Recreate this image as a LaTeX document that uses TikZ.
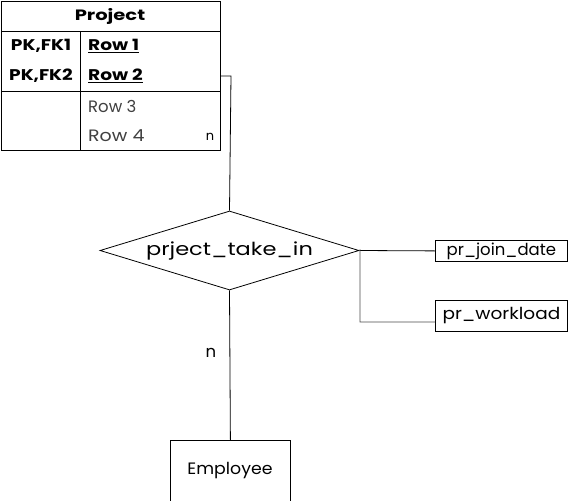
\documentclass[tikz,border=0pt]{standalone}
\usepackage{fontspec}
\usepackage{graphicx}
\setmainfont{Poppins}
\usetikzlibrary{shapes.geometric}
\newcommand{\hsc}[2]{\scalebox{#1}[1]{#2}}
\begin{document}
\begin{tikzpicture}[x=1pt,y=-1pt,
  line/.style={draw=black,line width=0.8pt},
  lbl/.style={inner sep=0pt,font=\fontsize{16.5}{18}\selectfont},
  blbl/.style={inner sep=0pt,font=\fontsize{15.5}{18}\selectfont\bfseries},
  ent/.style={draw=black,line width=0.8pt,fill=white,inner sep=0pt}]
\useasboundingbox[fill=white] (0,0) rectangle (571,501);
% table
\node[ent,minimum width=219pt,minimum height=149pt,anchor=north west] (tbl) at (1,1) {};
\draw[line] (1,31) -- (220,31);
\draw[line] (1,91) -- (220,91);
\draw[line] (80,31) -- (80,150);
\node[blbl,font=\fontsize{15}{18}\selectfont\bfseries] (title) at (110,16) {\hsc{1.3}{Project}};
\node[blbl] (k1) at (41,46) {\hsc{1.2}{PK,FK1}};
\node[blbl] (k2) at (41,76) {\hsc{1.2}{PK,FK2}};
\node[blbl,anchor=west] (r1) at (88,46) {\hsc{1.2}{\underline{Row 1}}};
\node[blbl,anchor=west] (r2) at (88,76) {\hsc{1.2}{\underline{Row 2}}};
\node[lbl,anchor=west,text=black!75] (r3) at (88,106) {Row 3};
\node[lbl,anchor=west,text=black!75] (r4) at (88,136) {\hsc{1.15}{Row 4}};
\node[lbl,font=\fontsize{13}{15}\selectfont] (n1) at (210,137) {n};
\coordinate (c1) at (220,76);
% diamond
\node[diamond,aspect=3.28,draw=black,line width=0.8pt,fill=white,inner sep=0pt,minimum width=259pt,minimum height=79pt] (rel) at (229.5,250.5) {};
\node[lbl,font=\fontsize{18}{20}\selectfont] at (rel.center) {\hsc{1.25}{prject\_take\_in}};
\draw[line] (c1) -- (231,76) -- (rel.north);
% attributes
\node[ent,minimum width=132pt,minimum height=21pt,anchor=north west] (a1) at (435,240) {};
\node[lbl] at (a1.center) {pr\_join\_date};
\node[ent,minimum width=132pt,minimum height=31pt,anchor=north west] (a2) at (435,300) {};
\node[lbl] at (a2.center) {\hsc{1.12}{pr\_workload}};
\draw[line] (rel.east) -- (a1.west);
\draw[line,draw=black!70] (rel.east) -- (360,250) -- (360,322) -- (a2.west |- 0,322);
% employee
\node[ent,minimum width=120pt,minimum height=70pt,anchor=north west] (emp) at (170,440) {};
\node[lbl] at (230,471) {\hsc{1.05}{Employee}};
\draw[line] (rel.south) -- (emp.north);
\node[lbl] (n2) at (211,353) {n};
\end{tikzpicture}
\end{document}
